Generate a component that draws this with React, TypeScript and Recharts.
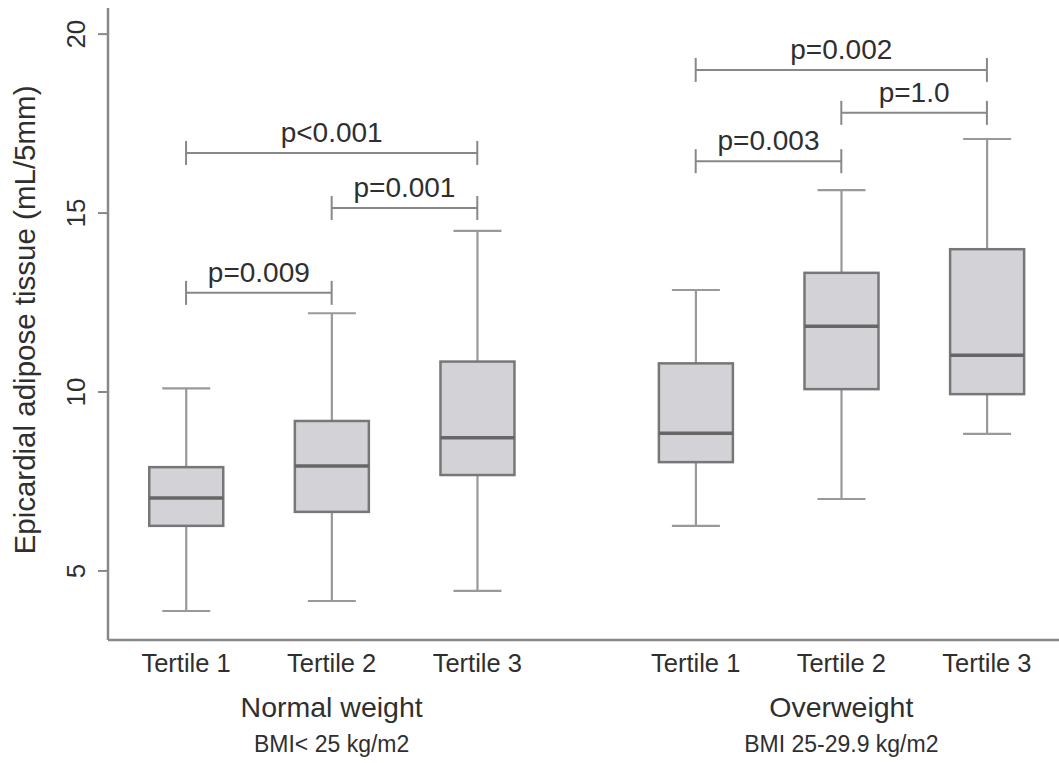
import React from 'react';
import { ComposedChart, Bar, XAxis, YAxis, ReferenceLine } from 'recharts';

const positions = [1, 2, 3, 4.5, 5.5, 6.5];
const tertileLabels = ['Tertile 1', 'Tertile 2', 'Tertile 3', 'Tertile 1', 'Tertile 2', 'Tertile 3'];
const whiskerLow = [3.88, 4.16, 4.44, 6.26, 7.01, 8.83];
const q1 = [6.26, 6.65, 7.68, 8.04, 10.08, 9.94];
const median = [7.04, 7.93, 8.72, 8.85, 11.84, 11.03];
const q3 = [7.9, 9.19, 10.85, 10.8, 13.33, 13.99];
const whiskerHigh = [10.1, 12.2, 14.5, 12.85, 15.64, 17.07];

const groupPositions = [2, 5.5];
const groupNames = ['Normal weight', 'Overweight'];
const groupSubtitles = ['BMI< 25 kg/m2', 'BMI 25-29.9 kg/m2'];

const bracketFrom = [1, 2, 1, 4.5, 5.5, 4.5];
const bracketTo = [2, 3, 3, 5.5, 6.5, 6.5];
const bracketY = [12.77, 15.14, 16.68, 16.45, 17.8, 19.0];
const bracketText = ['p=0.009', 'p=0.001', 'p<0.001', 'p=0.003', 'p=1.0', 'p=0.002'];

const yTicks = [5, 10, 15, 20];
const yDomain = [3.07, 20.73];
const xDomain = [0.464, 6.995];

const data = positions.map((p, i) => ({
  pos: p,
  label: tertileLabels[i],
  lo: whiskerLow[i],
  q1: q1[i],
  med: median[i],
  q3: q3[i],
  hi: whiskerHigh[i],
}));

const FONT = '"Liberation Sans", Arial, Helvetica, sans-serif';
const TEXT = '#2f2f2f';
const AXIS = '#888888';

const BoxShape = (props: any) => {
  const { x, y, width, height, payload } = props;
  if (height == null || !payload) return null;
  const ppu = height / (payload.hi - payload.lo);
  const py = (v: number) => y + (payload.hi - v) * ppu;
  const cx = x + width / 2;
  const capW = 48;
  return (
    <g>
      <line x1={cx} x2={cx} y1={py(payload.hi)} y2={py(payload.q3)} stroke="#999" strokeWidth={2.2} />
      <line x1={cx} x2={cx} y1={py(payload.q1)} y2={py(payload.lo)} stroke="#999" strokeWidth={2.2} />
      <line x1={cx - capW / 2} x2={cx + capW / 2} y1={py(payload.hi)} y2={py(payload.hi)} stroke="#999" strokeWidth={2.2} />
      <line x1={cx - capW / 2} x2={cx + capW / 2} y1={py(payload.lo)} y2={py(payload.lo)} stroke="#999" strokeWidth={2.2} />
      <rect x={x} y={py(payload.q3)} width={width} height={py(payload.q1) - py(payload.q3)} fill="#d3d3d7" stroke="#777" strokeWidth={2.5} />
      <line x1={x} x2={x + width} y1={py(payload.med)} y2={py(payload.med)} stroke="#666" strokeWidth={3.5} />
    </g>
  );
};

const makeBracket = (text: string) => (p: any) => {
  const { x1, x2, y1 } = p;
  return (
    <g>
      <line x1={x1} x2={x2} y1={y1} y2={y1} stroke="#888" strokeWidth={2} />
      <line x1={x1} x2={x1} y1={y1 - 12} y2={y1 + 12} stroke="#888" strokeWidth={2} />
      <line x1={x2} x2={x2} y1={y1 - 12} y2={y1 + 12} stroke="#888" strokeWidth={2} />
      <text x={(x1 + x2) / 2} y={y1 - 11} textAnchor="middle" fontSize={28} fontFamily={FONT} fill={TEXT}>
        {text}
      </text>
    </g>
  );
};

const YTick = (props: any) => {
  const { y, payload } = props;
  const tx = 76;
  return (
    <text x={tx} y={y} transform={`rotate(-90, ${tx}, ${y})`} textAnchor="middle" dominantBaseline="central" fontSize={26} fontFamily={FONT} fill={TEXT}>
      {payload.value}
    </text>
  );
};

const XTick = (props: any) => {
  const { x, payload } = props;
  const idx = positions.indexOf(payload.value);
  return (
    <text x={x} y={672} textAnchor="middle" fontSize={25.5} fontFamily={FONT} fill={TEXT}>
      {idx >= 0 ? tertileLabels[idx] : ''}
    </text>
  );
};

const GroupTick = (props: any) => {
  const { x, payload } = props;
  const idx = groupPositions.indexOf(payload.value);
  if (idx < 0) return null;
  return (
    <g>
      <text x={x} y={717} textAnchor="middle" fontSize={28.5} fontFamily={FONT} fill={TEXT}>
        {groupNames[idx]}
      </text>
      <text x={x} y={752} textAnchor="middle" fontSize={23} fontFamily={FONT} fill={TEXT}>
        {groupSubtitles[idx]}
      </text>
    </g>
  );
};

const YLabel = (props: any) => {
  const cx = 24;
  const cy = 320;
  return (
    <text x={cx} y={cy} transform={`rotate(-90, ${cx}, ${cy})`} textAnchor="middle" dominantBaseline="central" fontSize={29.5} fontFamily={FONT} fill={TEXT}>
      Epicardial adipose tissue (mL/5mm)
    </text>
  );
};

export default function App() {
  return (
    <div style={{ position: 'absolute', left: 0, top: 0, background: '#fff' }}>
      <ComposedChart width={1059} height={763} data={data} margin={{ top: 8, right: 0, bottom: 0, left: 0 }}>
        <XAxis
          dataKey="pos"
          type="number"
          domain={xDomain}
          allowDataOverflow
          ticks={positions}
          interval={0}
          tickLine={false}
          axisLine={{ stroke: AXIS, strokeWidth: 2.5 }}
          tick={<XTick />}
          height={40}
        />
        <XAxis
          xAxisId="group"
          dataKey="pos"
          type="number"
          domain={xDomain}
          allowDataOverflow
          ticks={groupPositions}
          interval={0}
          tickLine={false}
          axisLine={false}
          tick={<GroupTick />}
          height={83}
        />
        <YAxis
          type="number"
          domain={yDomain}
          allowDataOverflow
          ticks={yTicks}
          interval={0}
          width={108}
          tickSize={10}
          tickLine={{ stroke: AXIS, strokeWidth: 2 }}
          axisLine={{ stroke: AXIS, strokeWidth: 2.5 }}
          tick={<YTick />}
          label={<YLabel />}
        />
        <Bar
          dataKey={(d: any) => [d.lo, d.hi]}
          barSize={74}
          shape={<BoxShape />}
          isAnimationActive={false}
        />
        {bracketText.map((t, i) => (
          <ReferenceLine
            key={i}
            segment={[{ x: bracketFrom[i], y: bracketY[i] }, { x: bracketTo[i], y: bracketY[i] }]}
            ifOverflow="visible"
            shape={makeBracket(t)}
          />
        ))}
      </ComposedChart>
    </div>
  );
}
